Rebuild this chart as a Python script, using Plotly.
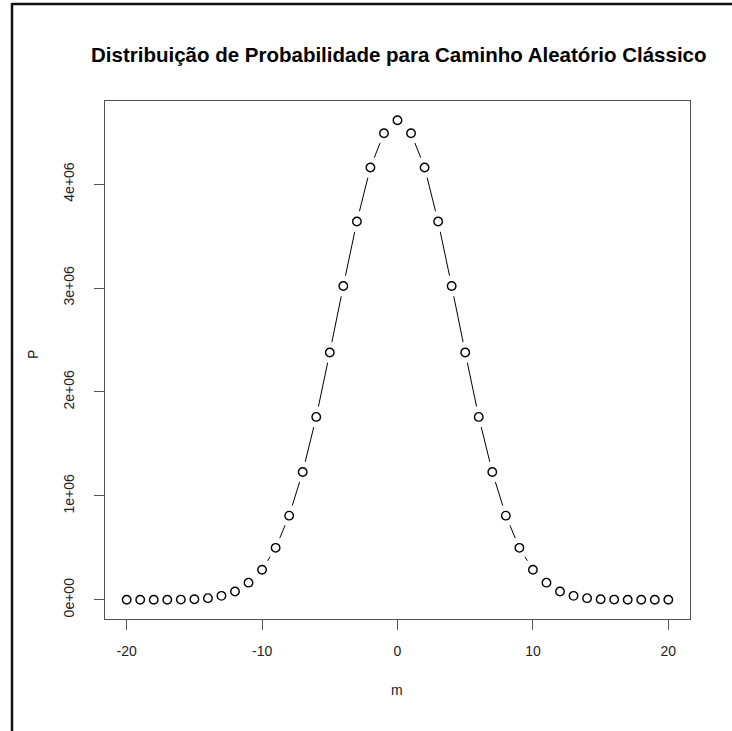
import numpy as np
import plotly.graph_objects as go

# ---- data ----
m_values = list(range(-20, 21))
half_p = [4.615e6, 4.49e6, 4.16e6, 3.64e6, 3.02e6, 2.38e6, 1.76e6, 1.23e6,
          0.81e6, 0.50e6, 0.29e6, 0.165e6, 0.08e6, 0.038e6, 0.016e6,
          0.006e6, 0.002e6, 0.0007e6, 0.0002e6, 0.00005e6, 0.00001e6]
p_values = half_p[:0:-1] + half_p
x_tick_vals = [-20, -10, 0, 10, 20]
x_tick_text = ["-20", "-10", "0", "10", "20"]
y_tick_vals = [0, 1e6, 2e6, 3e6, 4e6]
y_tick_text = ["0e+00", "1e+06", "2e+06", "3e+06", "4e+06"]
title_text = "Distribuição de Probabilidade para Caminho Aleatório Clássico"
x_label = "m"
y_label = "P"

# ---- layout geometry ----
W, H = 732, 731
L, R, T, B = 105, 690, 101, 619
pw, ph = R - L, B - T

x = np.array(m_values, dtype=float)
y = np.array(p_values, dtype=float)
xs = x.max() - x.min()
ys = y.max() - y.min()
xr = [x.min() - 0.04 * xs, x.max() + 0.04 * xs]
yr = [y.min() - 0.04 * ys, y.max() + 0.04 * ys]
kx = pw / (xr[1] - xr[0])
ky = ph / (yr[1] - yr[0])

# R type="b": segments with gaps around points
gap = 10.5
sx, sy = [], []
for i in range(len(x) - 1):
    dxp = (x[i + 1] - x[i]) * kx
    dyp = (y[i + 1] - y[i]) * ky
    d = np.hypot(dxp, dyp)
    if d > 2 * gap:
        ux, uy = dxp / d, dyp / d
        sx += [x[i] + gap * ux / kx, x[i + 1] - gap * ux / kx, None]
        sy += [y[i] + gap * uy / ky, y[i + 1] - gap * uy / ky, None]

fig = go.Figure()
fig.add_trace(go.Scatter(x=sx, y=sy, mode="lines",
                         line=dict(color="black", width=1), hoverinfo="skip"))
fig.add_trace(go.Scatter(x=m_values, y=p_values, mode="markers",
                         marker=dict(symbol="circle-open", size=8.5, color="black",
                                     line=dict(width=1.4, color="black"))))

font = "Liberation Sans, Arial, Helvetica, sans-serif"
axcol = "#555555"
txtcol = "#222222"
fig.update_layout(
    width=W, height=H,
    margin=dict(l=L, r=W - R, t=T, b=H - B, pad=0),
    paper_bgcolor="white", plot_bgcolor="white",
    showlegend=False,
    font=dict(family=font, size=14, color=txtcol),
    xaxis=dict(range=xr, showgrid=False, zeroline=False,
               showline=True, mirror=True, linecolor=axcol, linewidth=1,
               ticks="outside", ticklen=10, tickcolor=axcol, tickwidth=1,
               tickvals=x_tick_vals, ticktext=x_tick_text,
               ticklabelstandoff=9,
               tickfont=dict(size=14, color=txtcol)),
    yaxis=dict(range=yr, showgrid=False, zeroline=False,
               showline=True, mirror=True, linecolor=axcol, linewidth=1,
               ticks="outside", ticklen=10, tickcolor=axcol, tickwidth=1,
               tickvals=y_tick_vals, ticktext=y_tick_text, tickangle=-90,
               ticklabelstandoff=14,
               tickfont=dict(size=14, color=txtcol)),
    annotations=[
        dict(text="<b>" + title_text + "</b>", xref="paper", yref="paper",
             x=(399 - L) / pw, y=(B - 55) / ph, showarrow=False,
             font=dict(size=20.5, color="black", family=font),
             xanchor="center", yanchor="middle"),
        dict(text=x_label, xref="paper", yref="paper",
             x=(397 - L) / pw, y=(B - 690) / ph, showarrow=False,
             font=dict(size=14, color=txtcol, family=font),
             xanchor="center", yanchor="middle"),
        dict(text=y_label, xref="paper", yref="paper",
             x=(33 - L) / pw, y=(B - 355) / ph, showarrow=False, textangle=-90,
             font=dict(size=14, color=txtcol, family=font),
             xanchor="center", yanchor="middle"),
    ],
    shapes=[
        dict(type="line", xref="paper", yref="paper",
             x0=(12 - L) / pw, x1=(W + 5 - L) / pw,
             y0=(B - 4) / ph, y1=(B - 4) / ph,
             line=dict(color="#111111", width=2.5)),
        dict(type="line", xref="paper", yref="paper",
             x0=(12 - L) / pw, x1=(12 - L) / pw,
             y0=(B - 3) / ph, y1=(B - H - 5) / ph,
             line=dict(color="#111111", width=2.5)),
    ],
)

fig.write_html("out.html", config={"displayModeBar": False},
               post_script="document.body.style.margin='0';")
